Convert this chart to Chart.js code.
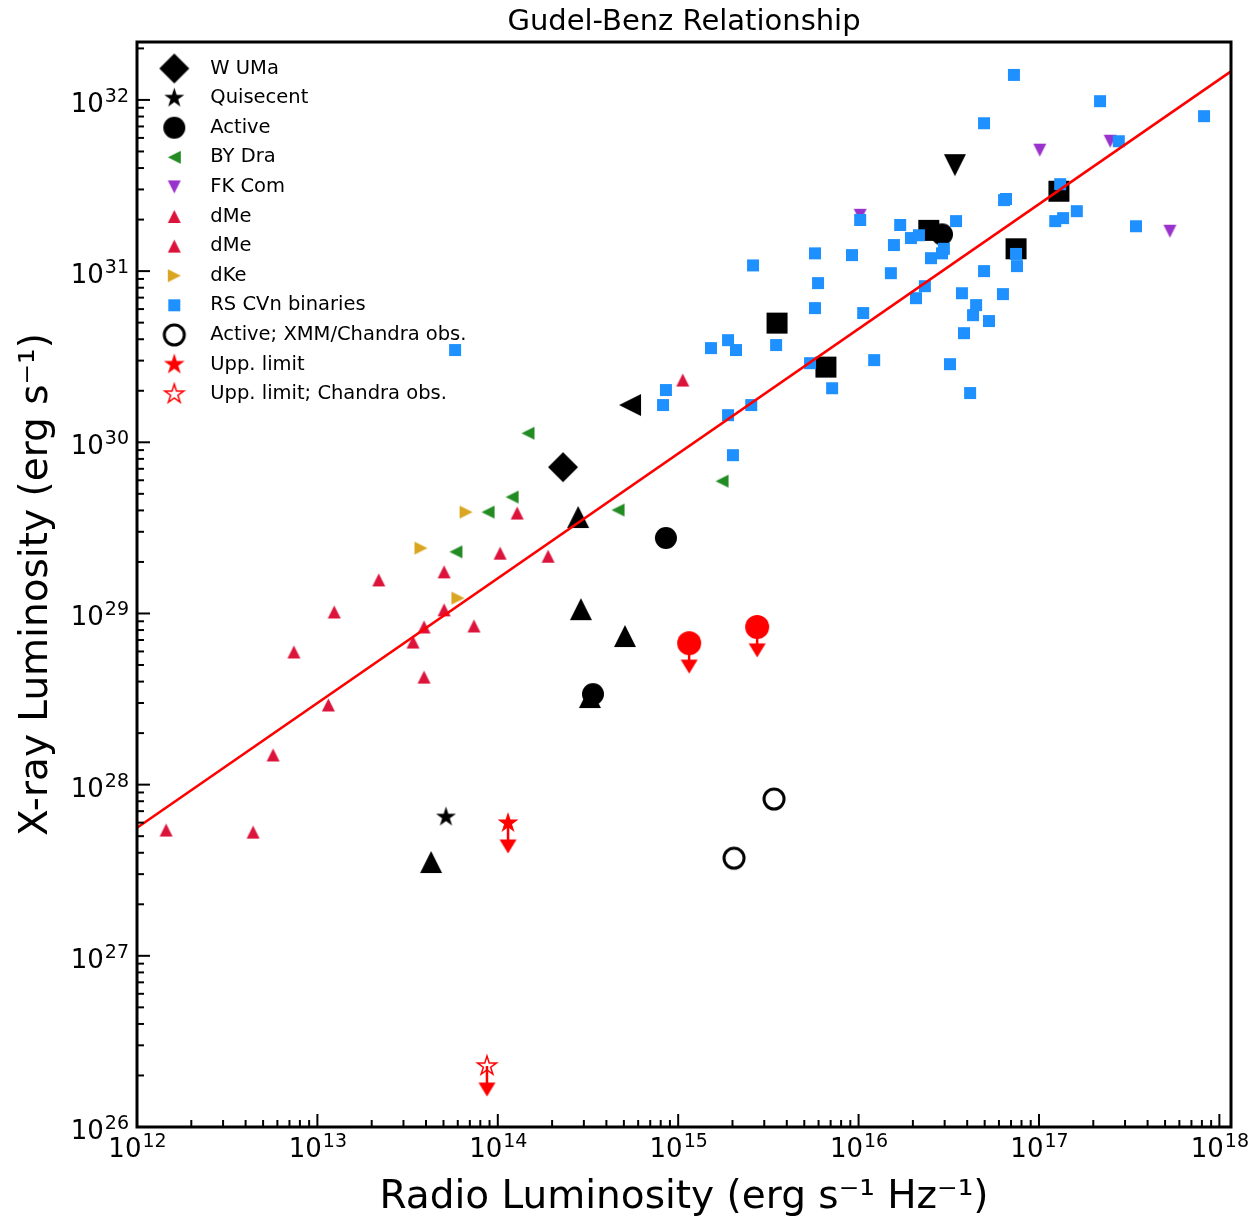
<!DOCTYPE html>
<html>
<head>
<meta charset="utf-8">
<script src="https://cdn.jsdelivr.net/npm/chart.js@4.4.1/dist/chart.umd.min.js"></script>
<style>
  html, body { margin: 0; padding: 0; background: #fff; }
  canvas { display: block; }
</style>
</head>
<body>
<canvas id="gudelBenz" width="1253" height="1219"></canvas>
<script>
// axis limits
const xLimits = [1e12, 1.16e18];
const yLimits = [1e26, 2.18e32];

// fitted relation, drawn edge to edge
const fitLine = [{x: 1e12, y: 5.6e27}, {x: 1.16e18, y: 1.47e32}];

// legend text
const legendLabels = ['W UMa', 'Quisecent', 'Active', 'BY Dra', 'FK Com', 'dMe', 'dMe', 'dKe',
  'RS CVn binaries', 'Active; XMM/Chandra obs.', 'Upp. limit', 'Upp. limit; Chandra obs.'];

const wUMa = [{x: 2.30e14, y: 7.16e29}];
const quisecent = [{x: 5.16e13, y: 6.47e27}];
const active = [{x: 8.55e14, y: 2.76e29}, {x: 3.37e14, y: 3.38e28}, {x: 2.90e16, y: 1.64e31}];
const byDra = [
  {x: 1.47e14, y: 1.13e30}, {x: 1.20e14, y: 4.79e29}, {x: 8.83e13, y: 3.91e29},
  {x: 5.86e13, y: 2.29e29}, {x: 4.64e14, y: 4.02e29}, {x: 1.75e15, y: 5.93e29}
];
const fkCom = [{x: 1.02e16, y: 2.12e31}, {x: 1.01e17, y: 5.09e31}, {x: 2.48e17, y: 5.74e31}, {x: 5.32e17, y: 1.71e31}];
const dMeA = [
  {x: 1.28e14, y: 3.86e29}, {x: 1.03e14, y: 2.25e29}, {x: 1.90e14, y: 2.16e29},
  {x: 5.04e13, y: 1.75e29}, {x: 2.19e13, y: 1.57e29}, {x: 1.24e13, y: 1.02e29},
  {x: 5.04e13, y: 1.05e29}, {x: 3.90e13, y: 8.34e28}, {x: 1.06e15, y: 2.31e30}
];
const dMeB = [
  {x: 7.38e13, y: 8.45e28}, {x: 3.39e13, y: 6.81e28}, {x: 7.41e12, y: 5.96e28},
  {x: 3.90e13, y: 4.25e28}, {x: 1.15e13, y: 2.92e28}, {x: 5.68e12, y: 1.49e28},
  {x: 1.45e12, y: 5.43e27}, {x: 4.40e12, y: 5.28e27}
];
const dKe = [{x: 6.67e13, y: 3.91e29}, {x: 3.75e13, y: 2.41e29}, {x: 6.01e13, y: 1.23e29}];
const rsCVn = [
  {x: 5.80e13, y: 3.46e30}, {x: 1.52e15, y: 3.55e30}, {x: 8.55e14, y: 2.02e30}, {x: 8.24e14, y: 1.65e30},
  {x: 1.89e15, y: 1.44e30}, {x: 2.01e15, y: 8.41e29}, {x: 2.09e15, y: 3.46e30}, {x: 1.89e15, y: 3.95e30},
  {x: 2.54e15, y: 1.65e30}, {x: 2.60e15, y: 1.08e31}, {x: 3.49e15, y: 3.70e30}, {x: 5.38e15, y: 2.90e30},
  {x: 5.73e15, y: 1.27e31}, {x: 5.96e15, y: 8.51e30}, {x: 5.73e15, y: 6.08e30}, {x: 7.13e15, y: 2.07e30},
  {x: 9.19e15, y: 1.24e31}, {x: 1.02e16, y: 1.99e31}, {x: 1.06e16, y: 5.69e30}, {x: 1.22e16, y: 3.02e30},
  {x: 1.51e16, y: 9.73e30}, {x: 1.57e16, y: 1.42e31}, {x: 1.70e16, y: 1.86e31}, {x: 1.95e16, y: 1.56e31},
  {x: 2.16e16, y: 1.62e31}, {x: 2.08e16, y: 6.95e30}, {x: 2.33e16, y: 8.17e30}, {x: 2.52e16, y: 1.19e31},
  {x: 2.90e16, y: 1.27e31}, {x: 2.97e16, y: 1.35e31}, {x: 3.21e16, y: 2.86e30}, {x: 3.47e16, y: 1.96e31},
  {x: 3.74e16, y: 7.43e30}, {x: 3.84e16, y: 4.34e30}, {x: 4.15e16, y: 1.94e30}, {x: 4.31e16, y: 5.53e30},
  {x: 4.48e16, y: 6.33e30}, {x: 4.96e16, y: 1.00e31}, {x: 4.96e16, y: 7.31e31}, {x: 5.28e16, y: 5.11e30},
  {x: 6.31e16, y: 7.34e30}, {x: 6.40e16, y: 2.60e31}, {x: 6.56e16, y: 2.64e31}, {x: 7.26e16, y: 1.40e32},
  {x: 7.46e16, y: 1.26e31}, {x: 7.55e16, y: 1.07e31}, {x: 1.23e17, y: 1.96e31}, {x: 1.36e17, y: 2.04e31},
  {x: 1.31e17, y: 3.22e31}, {x: 1.62e17, y: 2.24e31}, {x: 2.18e17, y: 9.84e31}, {x: 2.77e17, y: 5.74e31},
  {x: 3.45e17, y: 1.83e31}, {x: 8.22e17, y: 8.04e31}
];
const activeXmm = [{x: 2.04e15, y: 3.72e27}, {x: 3.40e15, y: 8.24e27}];
const uppLimit = [{x: 1.14e14, y: 5.97e27}];
const uppLimitChandra = [{x: 8.71e13, y: 2.27e26}];
const uppLimitCircles = [{x: 1.15e15, y: 6.71e28}, {x: 2.74e15, y: 8.34e28}];

// large black symbols without legend entries
const bigSquares = [
  {x: 3.53e15, y: 4.97e30}, {x: 6.59e15, y: 2.75e30}, {x: 2.45e16, y: 1.73e31},
  {x: 7.46e16, y: 1.35e31}, {x: 1.29e17, y: 2.93e31}
];
const bigTriangles = [
  {x: 2.79e14, y: 3.66e29}, {x: 2.89e14, y: 1.06e29}, {x: 5.07e14, y: 7.38e28},
  {x: 3.24e14, y: 3.25e28}, {x: 4.27e13, y: 3.53e27}
];
const bigLeftTriangles = [{x: 5.41e14, y: 1.65e30}];
const bigDownTriangles = [{x: 3.42e16, y: 4.16e31}];

// upper-limit arrow drop, in dex
const arrowDex = 0.137;

const FONT = 'DejaVu Sans';
Chart.defaults.font.family = FONT;
Chart.defaults.color = '#000';

function makeMarker(shape, size, fill, stroke, lw) {
  lw = lw || 0;
  const pad = Math.ceil(lw / 2) + 2;
  const dim = Math.ceil(size) + 2 * pad;
  const c = document.createElement('canvas');
  c.width = dim;
  c.height = dim;
  const ctx = c.getContext('2d');
  ctx.translate(dim / 2, dim / 2);
  const r = size / 2;
  ctx.beginPath();
  if (shape === 'circle') {
    ctx.arc(0, 0, r, 0, 2 * Math.PI);
  } else if (shape === 'square') {
    ctx.rect(-r, -r, size, size);
  } else if (shape === 'diamond') {
    ctx.moveTo(0, -r); ctx.lineTo(r, 0); ctx.lineTo(0, r); ctx.lineTo(-r, 0); ctx.closePath();
  } else if (shape === 'star') {
    for (let i = 0; i < 10; i++) {
      const rad = i % 2 ? r * 0.382 : r;
      const a = -Math.PI / 2 + i * Math.PI / 5;
      ctx.lineTo(rad * Math.cos(a), rad * Math.sin(a));
    }
    ctx.closePath();
  } else {
    const h = shape === 'head' ? r * 0.82 : r;
    const pts = {
      up: [[0, -r], [r, r], [-r, r]],
      down: [[0, r], [r, -r], [-r, -r]],
      left: [[-r, 0], [r, -r], [r, r]],
      right: [[r, 0], [-r, -r], [-r, r]],
      head: [[0, h], [r, -h], [-r, -h]]
    }[shape];
    ctx.moveTo(pts[0][0], pts[0][1]);
    ctx.lineTo(pts[1][0], pts[1][1]);
    ctx.lineTo(pts[2][0], pts[2][1]);
    ctx.closePath();
  }
  if (fill) { ctx.fillStyle = fill; ctx.fill(); }
  if (stroke) { ctx.lineWidth = lw; ctx.strokeStyle = stroke; ctx.stroke(); }
  return c;
}

const marks = {
  wUMa: makeMarker('diamond', 30, '#000'),
  quisecent: makeMarker('star', 21, '#000'),
  active: makeMarker('circle', 22, '#000'),
  byDra: makeMarker('left', 13, '#228B22'),
  fkCom: makeMarker('down', 13, '#9932CC'),
  dMe: makeMarker('up', 13, '#DC143C'),
  dKe: makeMarker('right', 13, '#DAA520'),
  rsCVn: makeMarker('square', 12, '#1E90FF'),
  activeXmm: makeMarker('circle', 20, null, '#000', 3),
  uppLimit: makeMarker('star', 22, '#FF0000'),
  uppLimitChandra: makeMarker('star', 20, null, '#FF0000', 1.5),
  redCircle: makeMarker('circle', 24, '#FF0000'),
  head: makeMarker('head', 17, '#FF0000'),
  bigSquare: makeMarker('square', 21, '#000'),
  bigUp: makeMarker('up', 22, '#000'),
  bigLeft: makeMarker('left', 22, '#000'),
  bigDown: makeMarker('down', 22, '#000')
};
const legendMarks = [marks.wUMa, marks.quisecent, marks.active, marks.byDra, marks.fkCom, marks.dMe,
  marks.dMe, marks.dKe, marks.rsCVn, marks.activeXmm, marks.uppLimit, marks.uppLimitChandra];

function scatter(data, style, order) {
  return {type: 'scatter', data: data, pointStyle: style, pointRadius: 6, order: order};
}

const limits = uppLimit.concat(uppLimitChandra, uppLimitCircles);
const drop = Math.pow(10, -arrowDex);
const arrowStems = limits.map(p => ({
  type: 'line', data: [p, {x: p.x, y: p.y * drop}], borderColor: '#FF0000',
  borderWidth: 2.5, pointRadius: 0, order: 2
}));
const arrowHeads = limits.map(p => ({x: p.x, y: p.y * drop}));

const datasets = [
  {type: 'line', data: fitLine, borderColor: '#FF0000', borderWidth: 2.6, pointRadius: 0, order: 0},
  scatter(uppLimit, marks.uppLimit, 1),
  scatter(uppLimitChandra, marks.uppLimitChandra, 1),
  scatter(uppLimitCircles, marks.redCircle, 1),
  scatter(arrowHeads, marks.head, 1),
  ...arrowStems,
  scatter(rsCVn, marks.rsCVn, 3),
  scatter(wUMa, marks.wUMa, 4),
  scatter(quisecent, marks.quisecent, 4),
  scatter(active, marks.active, 4),
  scatter(activeXmm, marks.activeXmm, 4),
  scatter(byDra, marks.byDra, 5),
  scatter(dMeA, marks.dMe, 5),
  scatter(dMeB, marks.dMe, 5),
  scatter(dKe, marks.dKe, 5),
  scatter(bigSquares, marks.bigSquare, 6),
  scatter(bigTriangles, marks.bigUp, 6),
  scatter(bigLeftTriangles, marks.bigLeft, 6),
  scatter(bigDownTriangles, marks.bigDown, 6),
  scatter(fkCom, marks.fkCom, 7)
];

function isDecade(v) {
  const e = Math.round(Math.log10(v));
  return Math.abs(v / Math.pow(10, e) - 1) < 1e-6;
}
function logTicks(min, max) {
  const out = [];
  for (let e = Math.floor(Math.log10(min)); e <= Math.ceil(Math.log10(max)); e++) {
    for (let m = 1; m <= 9; m++) {
      const v = m * Math.pow(10, e);
      if (v >= min * (1 - 1e-9) && v <= max * (1 + 1e-9)) out.push({value: v});
    }
  }
  return out;
}

// "10" with a raised exponent, like the mathtext labels of the original
function powerLabel(ctx, v, x, baseline, align) {
  const e = String(Math.round(Math.log10(v)));
  ctx.font = '26px "' + FONT + '"';
  const wb = ctx.measureText('10').width;
  ctx.font = '19px "' + FONT + '"';
  const we = ctx.measureText(e).width;
  const left = align === 'center' ? x - (wb + we) / 2 : x - wb - we;
  ctx.font = '26px "' + FONT + '"';
  ctx.fillText('10', left, baseline);
  ctx.font = '19px "' + FONT + '"';
  ctx.fillText(e, left + wb + 1, baseline - 10);
}

// inward ticks, tick labels, frame and the in-axes legend
const axesDecor = {
  id: 'axesDecor',
  afterDatasetsDraw(chart) {
    const {ctx, chartArea: a, scales: {x, y}} = chart;
    ctx.save();
    ctx.strokeStyle = '#000';
    ctx.fillStyle = '#000';
    ctx.textBaseline = 'alphabetic';
    ctx.textAlign = 'left';
    ctx.lineWidth = 2;
    x.ticks.forEach(t => {
      const px = x.getPixelForValue(t.value);
      const dec = isDecade(t.value);
      ctx.beginPath(); ctx.moveTo(px, a.bottom); ctx.lineTo(px, a.bottom - (dec ? 13 : 7)); ctx.stroke();
      if (dec) powerLabel(ctx, t.value, px, a.bottom + 30, 'center');
    });
    y.ticks.forEach(t => {
      const py = y.getPixelForValue(t.value);
      const dec = isDecade(t.value);
      ctx.beginPath(); ctx.moveTo(a.left, py); ctx.lineTo(a.left + (dec ? 13 : 7), py); ctx.stroke();
      if (dec) powerLabel(ctx, t.value, a.left - 9, py + 12, 'right');
    });
    ctx.lineWidth = 3;
    ctx.strokeRect(a.left, a.top, a.right - a.left, a.bottom - a.top);
    ctx.restore();
  },
  afterDraw(chart) {
    const {ctx, chartArea: a} = chart;
    ctx.save();
    ctx.fillStyle = '#000';
    ctx.font = '19.5px "' + FONT + '"';
    ctx.textBaseline = 'middle';
    legendLabels.forEach((label, i) => {
      const yc = a.top + 26.5 + i * 29.6;
      const img = legendMarks[i];
      ctx.drawImage(img, a.left + 37.3 - img.width / 2, yc - img.height / 2);
      ctx.fillText(label, a.left + 73.3, yc);
    });
    ctx.restore();
  }
};

new Chart(document.getElementById('gudelBenz'), {
  data: {datasets: datasets},
  plugins: [axesDecor],
  options: {
    responsive: false,
    animation: false,
    events: [],
    layout: {padding: {left: 0, right: 22, top: 0, bottom: 0}},
    plugins: {
      legend: {display: false},
      tooltip: {enabled: false},
      title: {
        display: true,
        text: 'Gudel-Benz Relationship',
        fullSize: false,
        color: '#000',
        font: {size: 29, weight: 'normal', lineHeight: 1.2},
        padding: {top: 5, bottom: 2.2}
      }
    },
    scales: {
      x: {
        type: 'logarithmic',
        position: 'bottom',
        min: xLimits[0],
        max: xLimits[1],
        grid: {display: false, drawTicks: false},
        border: {display: false},
        ticks: {display: false, autoSkip: false},
        title: {display: true, text: 'Radio Luminosity (erg s⁻¹ Hz⁻¹)', color: '#000',
          font: {size: 39, lineHeight: 1}, padding: {top: 0, bottom: 2}},
        afterBuildTicks: s => { s.ticks = logTicks(s.min, s.max); },
        afterFit: s => { s.height = 92; s.paddingLeft = 0; s.paddingRight = 0; }
      },
      y: {
        type: 'logarithmic',
        position: 'left',
        min: yLimits[0],
        max: yLimits[1],
        grid: {display: false, drawTicks: false},
        border: {display: false},
        ticks: {display: false, autoSkip: false},
        title: {display: true, text: 'X-ray Luminosity (erg s⁻¹)', color: '#000',
          font: {size: 39, lineHeight: 1}, padding: {top: 17, bottom: 0}},
        afterBuildTicks: s => { s.ticks = logTicks(s.min, s.max); },
        afterFit: s => { s.width = 137; s.paddingTop = 0; s.paddingBottom = 0; }
      }
    }
  }
});
</script>
</body>
</html>
